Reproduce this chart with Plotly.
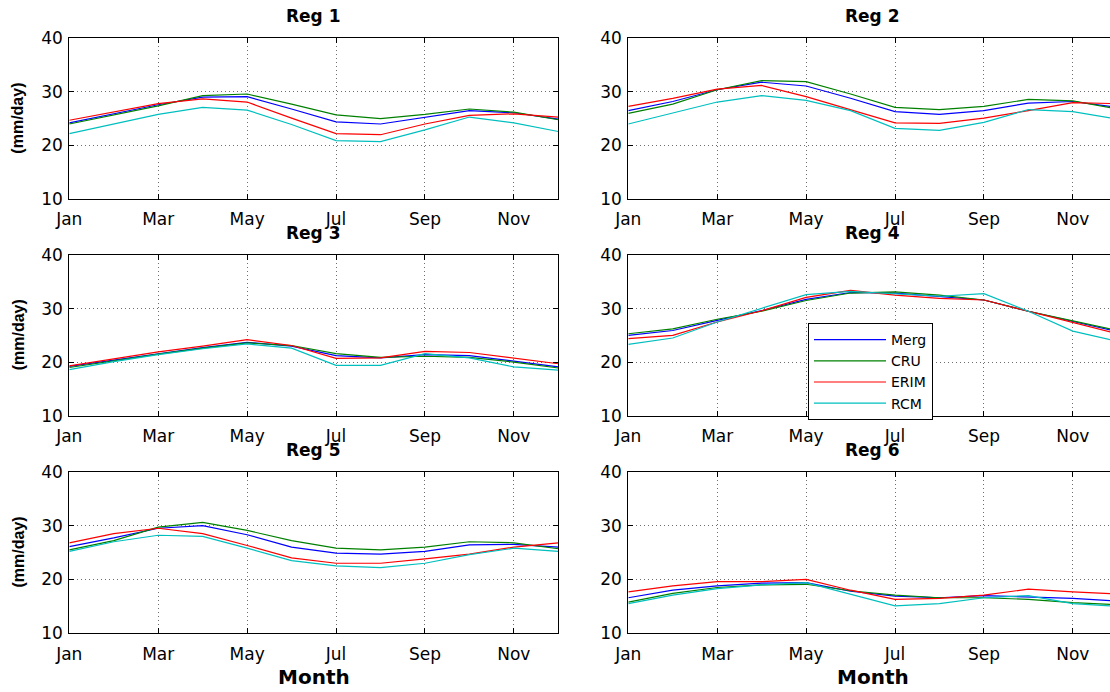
import plotly.graph_objects as go

months = list(range(1, 13))
month_tickvals = [1, 3, 5, 7, 9, 11]
month_ticktext = ["Jan", "Mar", "May", "Jul", "Sep", "Nov"]
series_names = ["Merg", "CRU", "ERIM", "RCM"]
series_colors = ["#0000FF", "#008000", "#FF0000", "#00BFBF"]
region_titles = ["Reg 1", "Reg 2", "Reg 3", "Reg 4", "Reg 5", "Reg 6"]

# Region 1
reg1_merg = [24.2, 25.9, 27.6, 29.0, 29.1, 26.8, 24.4, 24.0, 25.3, 26.5, 26.1, 24.9]
reg1_cru = [24.0, 25.7, 27.4, 29.3, 29.6, 27.7, 25.7, 25.0, 25.8, 26.8, 26.2, 24.8]
reg1_erim = [24.7, 26.3, 27.8, 28.7, 28.1, 25.1, 22.2, 22.0, 24.0, 25.6, 25.9, 25.3]
reg1_rcm = [22.2, 24.0, 25.8, 27.1, 26.6, 23.9, 20.9, 20.7, 22.9, 25.3, 24.2, 22.6]

# Region 2
reg2_merg = [26.5, 28.2, 30.4, 31.8, 31.1, 28.8, 26.3, 25.8, 26.5, 27.9, 28.2, 27.1]
reg2_cru = [26.0, 27.7, 30.4, 32.1, 31.9, 29.6, 27.1, 26.7, 27.3, 28.6, 28.3, 26.8]
reg2_erim = [27.3, 28.8, 30.5, 31.2, 29.1, 26.6, 24.2, 24.1, 25.1, 26.5, 28.0, 27.8]
reg2_rcm = [24.0, 26.1, 28.1, 29.3, 28.4, 26.5, 23.2, 22.8, 24.3, 26.7, 26.3, 24.9]

# Region 3
reg3_merg = [19.2, 20.4, 21.6, 22.7, 23.7, 23.0, 21.2, 20.8, 21.4, 21.2, 20.2, 19.1]
reg3_cru = [19.0, 20.3, 21.5, 22.6, 23.6, 23.1, 21.6, 20.9, 21.1, 20.9, 20.0, 18.9]
reg3_erim = [19.3, 20.6, 21.9, 23.0, 24.2, 23.1, 20.7, 20.8, 22.0, 21.8, 20.8, 19.7]
reg3_rcm = [18.6, 20.1, 21.4, 22.5, 23.4, 22.6, 19.4, 19.4, 21.6, 20.8, 19.1, 18.5]

# Region 4
reg4_merg = [25.0, 25.9, 27.8, 29.6, 31.7, 33.0, 32.9, 32.3, 31.6, 29.5, 27.6, 25.7]
reg4_cru = [25.3, 26.2, 28.0, 29.5, 31.5, 32.9, 33.1, 32.5, 31.6, 29.5, 27.7, 25.9]
reg4_erim = [24.4, 25.0, 27.5, 29.6, 32.1, 33.4, 32.5, 31.9, 31.6, 29.5, 27.4, 25.3]
reg4_rcm = [23.3, 24.5, 27.5, 30.0, 32.6, 33.2, 32.8, 32.3, 32.8, 29.5, 25.8, 23.9]

# Region 5
reg5_merg = [26.1, 27.7, 29.5, 30.0, 28.3, 26.0, 24.9, 24.7, 25.2, 26.4, 26.5, 26.0]
reg5_cru = [25.5, 27.2, 29.7, 30.6, 29.1, 27.2, 25.8, 25.5, 26.0, 27.0, 26.8, 25.7]
reg5_erim = [26.8, 28.5, 29.5, 28.5, 26.3, 24.0, 23.0, 23.0, 23.8, 24.7, 26.0, 26.8]
reg5_rcm = [25.2, 27.0, 28.2, 28.0, 25.8, 23.5, 22.5, 22.2, 23.0, 24.6, 25.8, 25.2]

# Region 6
reg6_merg = [16.6, 18.0, 18.8, 19.3, 19.4, 17.8, 16.9, 16.6, 17.0, 16.8, 16.5, 16.0]
reg6_cru = [15.8, 17.4, 18.5, 19.0, 19.1, 17.9, 17.1, 16.6, 16.6, 16.3, 15.7, 15.3]
reg6_erim = [17.7, 18.8, 19.6, 19.6, 20.0, 18.0, 16.3, 16.5, 17.1, 18.2, 17.7, 17.3]
reg6_rcm = [15.5, 17.1, 18.3, 19.0, 19.4, 17.2, 15.1, 15.5, 16.6, 17.0, 15.5, 15.0]

regions = [
    [reg1_merg, reg1_cru, reg1_erim, reg1_rcm],
    [reg2_merg, reg2_cru, reg2_erim, reg2_rcm],
    [reg3_merg, reg3_cru, reg3_erim, reg3_rcm],
    [reg4_merg, reg4_cru, reg4_erim, reg4_rcm],
    [reg5_merg, reg5_cru, reg5_erim, reg5_rcm],
    [reg6_merg, reg6_cru, reg6_erim, reg6_rcm],
]

W, H = 1110, 692
TICKFONT = "DejaVu Sans, Verdana, sans-serif"
BOLDFONT = "DejaVu Sans, Verdana, sans-serif"
YTFONT = "Liberation Sans, Arial, Helvetica, sans-serif"

MONTH_PX = 44.45
col_x = [(69.3, 558.3), (628.3, 1110)]
col_range = [[1, 12], [1, 1 + (1110 - 628.3) / MONTH_PX]]
row_y = [(38.3, 199.0), (255.0, 415.7), (471.7, 633.3)]

fig = go.Figure()
layout = {}
annotations = []

for i, reg in enumerate(regions):
    r, c = divmod(i, 2)
    n = i + 1
    xname = "xaxis" if n == 1 else f"xaxis{n}"
    yname = "yaxis" if n == 1 else f"yaxis{n}"
    xref = "x" if n == 1 else f"x{n}"
    yref = "y" if n == 1 else f"y{n}"
    for k, vals in enumerate(reg):
        fig.add_trace(go.Scatter(
            x=months, y=vals, mode="lines", name=series_names[k],
            line=dict(color=series_colors[k], width=1.2),
            xaxis=xref, yaxis=yref,
            showlegend=(i == 3),
        ))
    x0, x1 = col_x[c]
    y0, y1 = row_y[r]
    layout[xname] = dict(
        domain=[x0 / W, x1 / W], range=col_range[c], anchor=yref,
        tickvals=month_tickvals, ticktext=month_ticktext,
        showgrid=True, gridcolor="#6e6e6e", griddash="1px,3px", gridwidth=1,
        showline=True, linecolor="#000000", linewidth=1, mirror="ticks",
        ticks="inside", ticklen=5, tickcolor="#000000",
        tickfont=dict(family=TICKFONT, size=17, color="#000000"),
        ticklabelstandoff=5,
        zeroline=False, fixedrange=True, automargin=False,
    )
    layout[yname] = dict(
        domain=[1 - y1 / H, 1 - y0 / H], range=[10, 40], anchor=xref,
        tickvals=[10, 20, 30, 40],
        showgrid=True, gridcolor="#6e6e6e", griddash="1px,3px", gridwidth=1,
        showline=True, linecolor="#000000", linewidth=1,
        mirror=("ticks" if c == 0 else False),
        ticks="inside", ticklen=5, tickcolor="#000000",
        tickfont=dict(family=TICKFONT, size=17, color="#000000"),
        ticklabelstandoff=2,
        zeroline=False, fixedrange=True, automargin=False,
    )
    cx = x0 + 11 * MONTH_PX / 2
    annotations.append(dict(
        text=f"<b>{region_titles[i]}</b>", x=cx / W, y=1 - (y0 - 22) / H,
        xref="paper", yref="paper", xanchor="center", yanchor="middle",
        showarrow=False, font=dict(family=BOLDFONT, size=17, color="#000000"),
    ))
    if c == 0:
        annotations.append(dict(
            text="<b>(mm/day)</b>", x=18 / W, y=1 - ((y0 + y1) / 2) / H,
            xref="paper", yref="paper", xanchor="center", yanchor="middle",
            textangle=-90, showarrow=False,
            font=dict(family=YTFONT, size=16, color="#000000"),
        ))
    if r == 2:
        annotations.append(dict(
            text="<b>Month</b>", x=cx / W, y=1 - 677 / H,
            xref="paper", yref="paper", xanchor="center", yanchor="middle",
            showarrow=False, font=dict(family=BOLDFONT, size=20, color="#000000"),
        ))

fig.update_layout(
    width=W, height=H,
    margin=dict(l=0, r=0, t=0, b=0, pad=0),
    paper_bgcolor="#FFFFFF", plot_bgcolor="#FFFFFF",
    showlegend=True,
    legend=dict(
        x=808 / W, y=1 - 323 / H, xanchor="left", yanchor="top",
        bgcolor="#FFFFFF", bordercolor="#000000", borderwidth=1,
        font=dict(family=TICKFONT, size=14, color="#000000"),
        itemwidth=72, tracegroupgap=0,
    ),
    annotations=annotations,
    **layout,
)

fig.write_html("out.html")
